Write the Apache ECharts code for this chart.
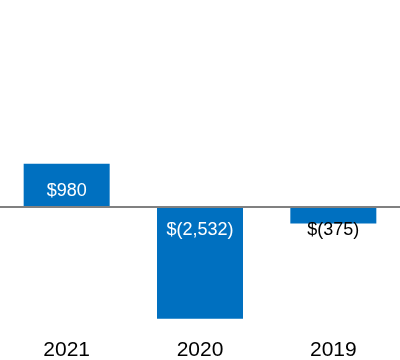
<!DOCTYPE html>
<html><head><meta charset="utf-8">
<style>html,body{margin:0;padding:0;background:#fff}#c{width:400px;height:360px}</style>
<script src="https://cdn.jsdelivr.net/npm/echarts@6/dist/echarts.min.js"></script>
</head><body><div id="c"></div>
<script>
const categories = ['2021', '2020', '2019'];
const values = [980, -2532, -375];
const valueLabels = ['$980', '$(2,532)', '$(375)'];
const labelColors = ['#ffffff', '#ffffff', '#000000'];
const labelDistances = [18, 14, 14];

const chart = echarts.init(document.getElementById('c'));
chart.setOption({
  animation: false,
  grid: { left: 0, right: 0, top: 30.5, bottom: 20.7, containLabel: false, outerBoundsMode: 'none' },
  xAxis: {
    type: 'category', data: categories,
    axisLine: { show: false, onZero: false }, axisTick: { show: false },
    axisLabel: { fontFamily: 'Liberation Sans, Arial, sans-serif', fontSize: 21, color: '#000', margin: 0 }
  },
  yAxis: { type: 'value', min: -3000, max: 4000, show: false, splitLine: { show: false } },
  series: [{
    type: 'bar', barWidth: 86,
    data: values.map((v, i) => ({
      value: v,
      label: { color: labelColors[i], formatter: valueLabels[i], distance: labelDistances[i] }
    })),
    itemStyle: { color: '#0070C0' },
    label: { show: true, position: 'insideTop', fontFamily: 'Liberation Sans, Arial, sans-serif', fontSize: 18 },
    markLine: {
      silent: true, symbol: 'none', label: { show: false },
      lineStyle: { color: '#808080', width: 2, type: 'solid' },
      data: [{ yAxis: 0 }]
    }
  }]
});
</script></body></html>
